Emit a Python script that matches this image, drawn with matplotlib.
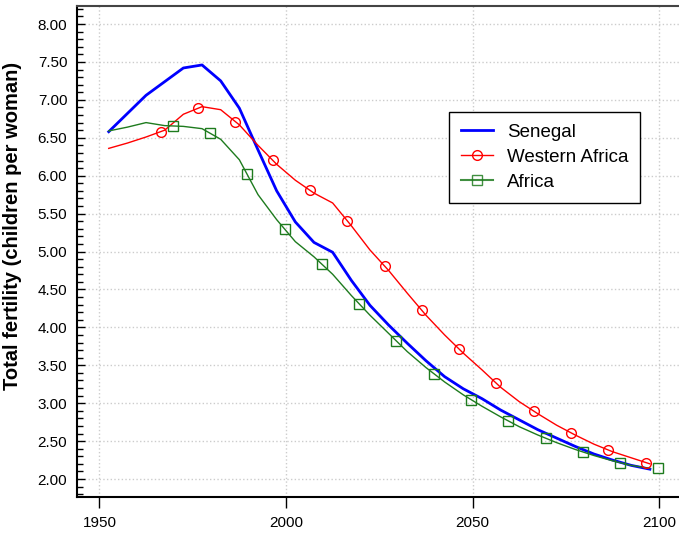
import numpy as np
import matplotlib
matplotlib.use("Agg")
import matplotlib.pyplot as plt
from matplotlib.ticker import MultipleLocator, FormatStrFormatter

# five-year period midpoints
years = np.arange(1952.5, 2100, 5)

senegal = [6.58, 6.82, 7.06, 7.24, 7.42, 7.46, 7.25, 6.89, 6.34, 5.80,
           5.39, 5.12, 4.99, 4.62, 4.29, 4.03, 3.79, 3.56, 3.35, 3.19,
           3.06, 2.91, 2.78, 2.65, 2.54, 2.43, 2.33, 2.25, 2.18, 2.13]
western_africa = [6.36, 6.43, 6.51, 6.60, 6.81, 6.91, 6.87, 6.67, 6.40, 6.15,
                  5.94, 5.77, 5.64, 5.34, 5.02, 4.75, 4.45, 4.16, 3.90, 3.66,
                  3.44, 3.21, 3.02, 2.86, 2.71, 2.58, 2.46, 2.36, 2.28, 2.20]
africa = [6.59, 6.64, 6.70, 6.66, 6.65, 6.62, 6.48, 6.21, 5.75, 5.42,
          5.13, 4.93, 4.70, 4.42, 4.16, 3.92, 3.68, 3.47, 3.28, 3.11,
          2.96, 2.82, 2.69, 2.58, 2.48, 2.39, 2.31, 2.24, 2.18, 2.14]

plt.rcParams['font.family'] = ['Liberation Sans', 'DejaVu Sans']

fig = plt.figure(figsize=(6.79, 5.35), dpi=100)
ax = fig.add_axes([77 / 679, 38 / 535, 602 / 679, 491.5 / 535])

ax.plot(years, senegal, color='#0000ff', lw=2, label='Senegal')
ax.plot(years, western_africa, color='#ff0000', lw=1)
ax.plot(years, africa, color='#1e7b1e', lw=1)

# markers every 10 years along the lines
mk_wa = np.arange(1966.4, 2100, 10)
mk_af = np.arange(1969.6, 2100, 10)
ax.plot(mk_wa, np.interp(mk_wa, years, western_africa), 'o', ls='none',
        mfc='none', mec='#ff0000', ms=7, mew=1)
ax.plot(mk_af, np.interp(mk_af, years, africa), 's', ls='none',
        mfc='none', mec='#1e7b1e', ms=7, mew=1)

# legend handles
ax.plot([], [], color='#ff0000', lw=1, marker='o', mfc='none', ms=7,
        label='Western Africa')
ax.plot([], [], color='#1e7b1e', lw=1.5, alpha=0.85, marker='s', mfc='none',
        ms=7, label='Africa')

ax.set_xlim(1944.0, 2105.3)
ax.set_ylim(1.763, 8.244)

ax.set_xticks([1950, 2000, 2050, 2100])
ax.yaxis.set_major_locator(MultipleLocator(0.5))
ax.yaxis.set_minor_locator(MultipleLocator(0.1))
ax.yaxis.set_major_formatter(FormatStrFormatter('%.2f'))

ax.tick_params(axis='y', which='major', direction='in', length=6, width=1,
               labelsize=11, pad=7)
ax.tick_params(axis='y', which='minor', direction='in', length=4, width=1)
ax.tick_params(axis='x', which='major', direction='out', length=8, width=1,
               labelsize=11, pad=6)

ax.grid(True, color='#cccccc', ls=':', lw=1)

for s in ['left', 'bottom', 'top']:
    ax.spines[s].set_linewidth(1.5)
ax.spines['top'].set_color('#444444')
ax.spines['right'].set_visible(False)

ax.set_ylabel('Total fertility (children per woman)', fontsize=14.5,
              fontweight='bold')
ax.yaxis.set_label_coords(-0.091, 0.551)

leg = ax.legend(loc='upper right', bbox_to_anchor=(0.935, 0.783),
                borderaxespad=0, fontsize=13.5, fancybox=False,
                edgecolor='black', framealpha=1, handlelength=1.7,
                handletextpad=0.75, labelspacing=0.42, borderpad=0.62)
leg.get_frame().set_linewidth(1)

fig.savefig('out.png', dpi=100)
